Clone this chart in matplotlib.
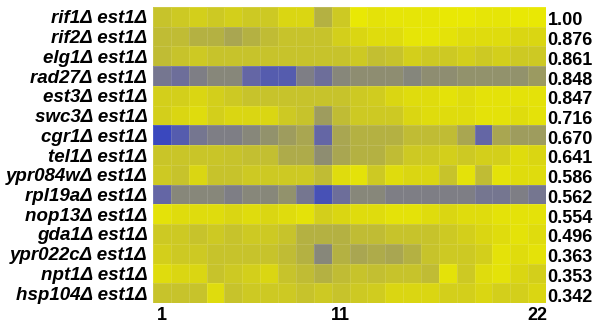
import numpy as np
import matplotlib
matplotlib.use("Agg")
import matplotlib.pyplot as plt
from matplotlib.colors import LinearSegmentedColormap

plt.rcParams['font.family'] = ['Liberation Sans', 'DejaVu Sans']

strains = ["rif1Δ est1Δ", "rif2Δ est1Δ", "elg1Δ est1Δ", "rad27Δ est1Δ",
           "est3Δ est1Δ", "swc3Δ est1Δ", "cgr1Δ est1Δ", "tel1Δ est1Δ",
           "ypr084wΔ est1Δ", "rpl19aΔ est1Δ", "nop13Δ est1Δ", "gda1Δ est1Δ",
           "ypr022cΔ est1Δ", "npt1Δ est1Δ", "hsp104Δ est1Δ"]
scores = ["1.00", "0.876", "0.861", "0.848", "0.847", "0.716", "0.670", "0.641",
          "0.586", "0.562", "0.554", "0.496", "0.363", "0.353", "0.342"]
x_ticks = [1, 11, 22]

# 0 = yellow, 1 = blue (one row per strain, 22 time points)
rif1 = [0.35, 0.3, 0.25, 0.3, 0.25, 0.3, 0.3, 0.2, 0.2, 0.45, 0.3, 0.05, 0.1, 0.08, 0.08, 0.08, 0.05, 0.05, 0.08, 0.08, 0.05, 0.05]
rif2 = [0.4, 0.4, 0.45, 0.45, 0.5, 0.45, 0.4, 0.35, 0.35, 0.35, 0.25, 0.2, 0.15, 0.15, 0.08, 0.08, 0.1, 0.15, 0.15, 0.15, 0.2, 0.2]
elg1 = [0.4, 0.35, 0.3, 0.35, 0.35, 0.35, 0.35, 0.35, 0.35, 0.35, 0.35, 0.3, 0.38, 0.35, 0.25, 0.3, 0.3, 0.25, 0.3, 0.25, 0.3, 0.3]
rad27 = [0.75, 0.8, 0.7, 0.65, 0.65, 0.85, 0.9, 0.9, 0.7, 0.8, 0.65, 0.62, 0.62, 0.62, 0.66, 0.62, 0.62, 0.6, 0.6, 0.6, 0.6, 0.56]
est3 = [0.25, 0.25, 0.2, 0.25, 0.3, 0.35, 0.35, 0.35, 0.35, 0.35, 0.35, 0.3, 0.28, 0.2, 0.15, 0.15, 0.1, 0.15, 0.1, 0.1, 0.1, 0.1]
swc3 = [0.25, 0.2, 0.15, 0.25, 0.2, 0.2, 0.2, 0.3, 0.35, 0.55, 0.4, 0.3, 0.3, 0.3, 0.2, 0.15, 0.15, 0.15, 0.1, 0.1, 0.15, 0.1]
cgr1 = [1.0, 0.9, 0.75, 0.7, 0.7, 0.65, 0.6, 0.55, 0.5, 0.85, 0.5, 0.45, 0.45, 0.45, 0.4, 0.4, 0.4, 0.5, 0.85, 0.5, 0.55, 0.55]
tel1 = [0.33, 0.33, 0.33, 0.33, 0.35, 0.38, 0.38, 0.48, 0.48, 0.62, 0.5, 0.45, 0.45, 0.4, 0.3, 0.3, 0.25, 0.3, 0.25, 0.25, 0.15, 0.2]
ypr084w = [0.3, 0.35, 0.2, 0.35, 0.35, 0.3, 0.3, 0.3, 0.3, 0.4, 0.15, 0.1, 0.3, 0.15, 0.2, 0.2, 0.35, 0.1, 0.4, 0.1, 0.15, 0.15]
rpl19a = [0.85, 0.65, 0.65, 0.65, 0.7, 0.65, 0.65, 0.6, 0.75, 0.95, 0.8, 0.65, 0.65, 0.7, 0.7, 0.7, 0.7, 0.7, 0.75, 0.75, 0.7, 0.75]
nop13 = [0.1, 0.15, 0.15, 0.15, 0.2, 0.15, 0.2, 0.15, 0.1, 0.25, 0.2, 0.15, 0.15, 0.1, 0.1, 0.15, 0.2, 0.15, 0.15, 0.1, 0.1, 0.1]
gda1 = [0.3, 0.3, 0.35, 0.3, 0.35, 0.3, 0.3, 0.35, 0.45, 0.45, 0.45, 0.4, 0.4, 0.35, 0.35, 0.35, 0.3, 0.25, 0.2, 0.15, 0.1, 0.15]
ypr022c = [0.25, 0.3, 0.3, 0.35, 0.35, 0.35, 0.35, 0.4, 0.45, 0.65, 0.45, 0.5, 0.48, 0.5, 0.45, 0.35, 0.3, 0.3, 0.25, 0.1, 0.15, 0.1]
npt1 = [0.15, 0.2, 0.2, 0.35, 0.3, 0.25, 0.2, 0.35, 0.4, 0.45, 0.4, 0.35, 0.38, 0.35, 0.35, 0.4, 0.1, 0.3, 0.15, 0.1, 0.2, 0.25]
hsp104 = [0.35, 0.35, 0.35, 0.15, 0.35, 0.3, 0.3, 0.3, 0.35, 0.3, 0.35, 0.3, 0.28, 0.2, 0.2, 0.2, 0.25, 0.25, 0.2, 0.25, 0.25, 0.2]

data = np.array([rif1, rif2, elg1, rad27, est3, swc3, cgr1, tel1, ypr084w,
                 rpl19a, nop13, gda1, ypr022c, npt1, hsp104])

cmap = LinearSegmentedColormap.from_list("yb", [
    (0.0, (238/255, 238/255, 0/255)),
    (0.2, (218/255, 214/255, 18/255)),
    (0.4, (192/255, 188/255, 52/255)),
    (0.65, (135/255, 135/255, 122/255)),
    (0.85, (100/255, 102/255, 165/255)),
    (1.0, (58/255, 72/255, 190/255)),
])

fig = plt.figure(figsize=(5.99, 3.24), dpi=100)
ax = fig.add_axes([153/599, 1 - 303/324, 393/599, 296/324])
nrow, ncol = data.shape
ax.pcolormesh(np.arange(ncol + 1) + 0.5, np.arange(nrow + 1) - 0.5, data,
              cmap=cmap, vmin=0, vmax=1,
              edgecolors=(1, 1, 1, 0.12), linewidth=0.5)
ax.set_xlim(0.5, ncol + 0.5)
ax.set_ylim(nrow - 0.5, -0.5)

ax.set_yticks(range(nrow))
ax.set_yticklabels(strains, fontsize=13.5, fontweight='bold', fontstyle='italic')
ax.set_xticks(x_ticks)
ax.set_xticklabels([str(t) for t in x_ticks], fontsize=13, fontweight='bold')
ax.tick_params(axis='y', length=0, pad=4)
ax.tick_params(axis='x', length=0, pad=3)
for s in ax.spines.values():
    s.set_visible(False)

for i, sc in enumerate(scores):
    ax.text(1.004, i + 0.2, sc, transform=ax.get_yaxis_transform(),
            ha='left', va='center', fontsize=13, fontweight='bold')

fig.savefig("out.png", dpi=100)
